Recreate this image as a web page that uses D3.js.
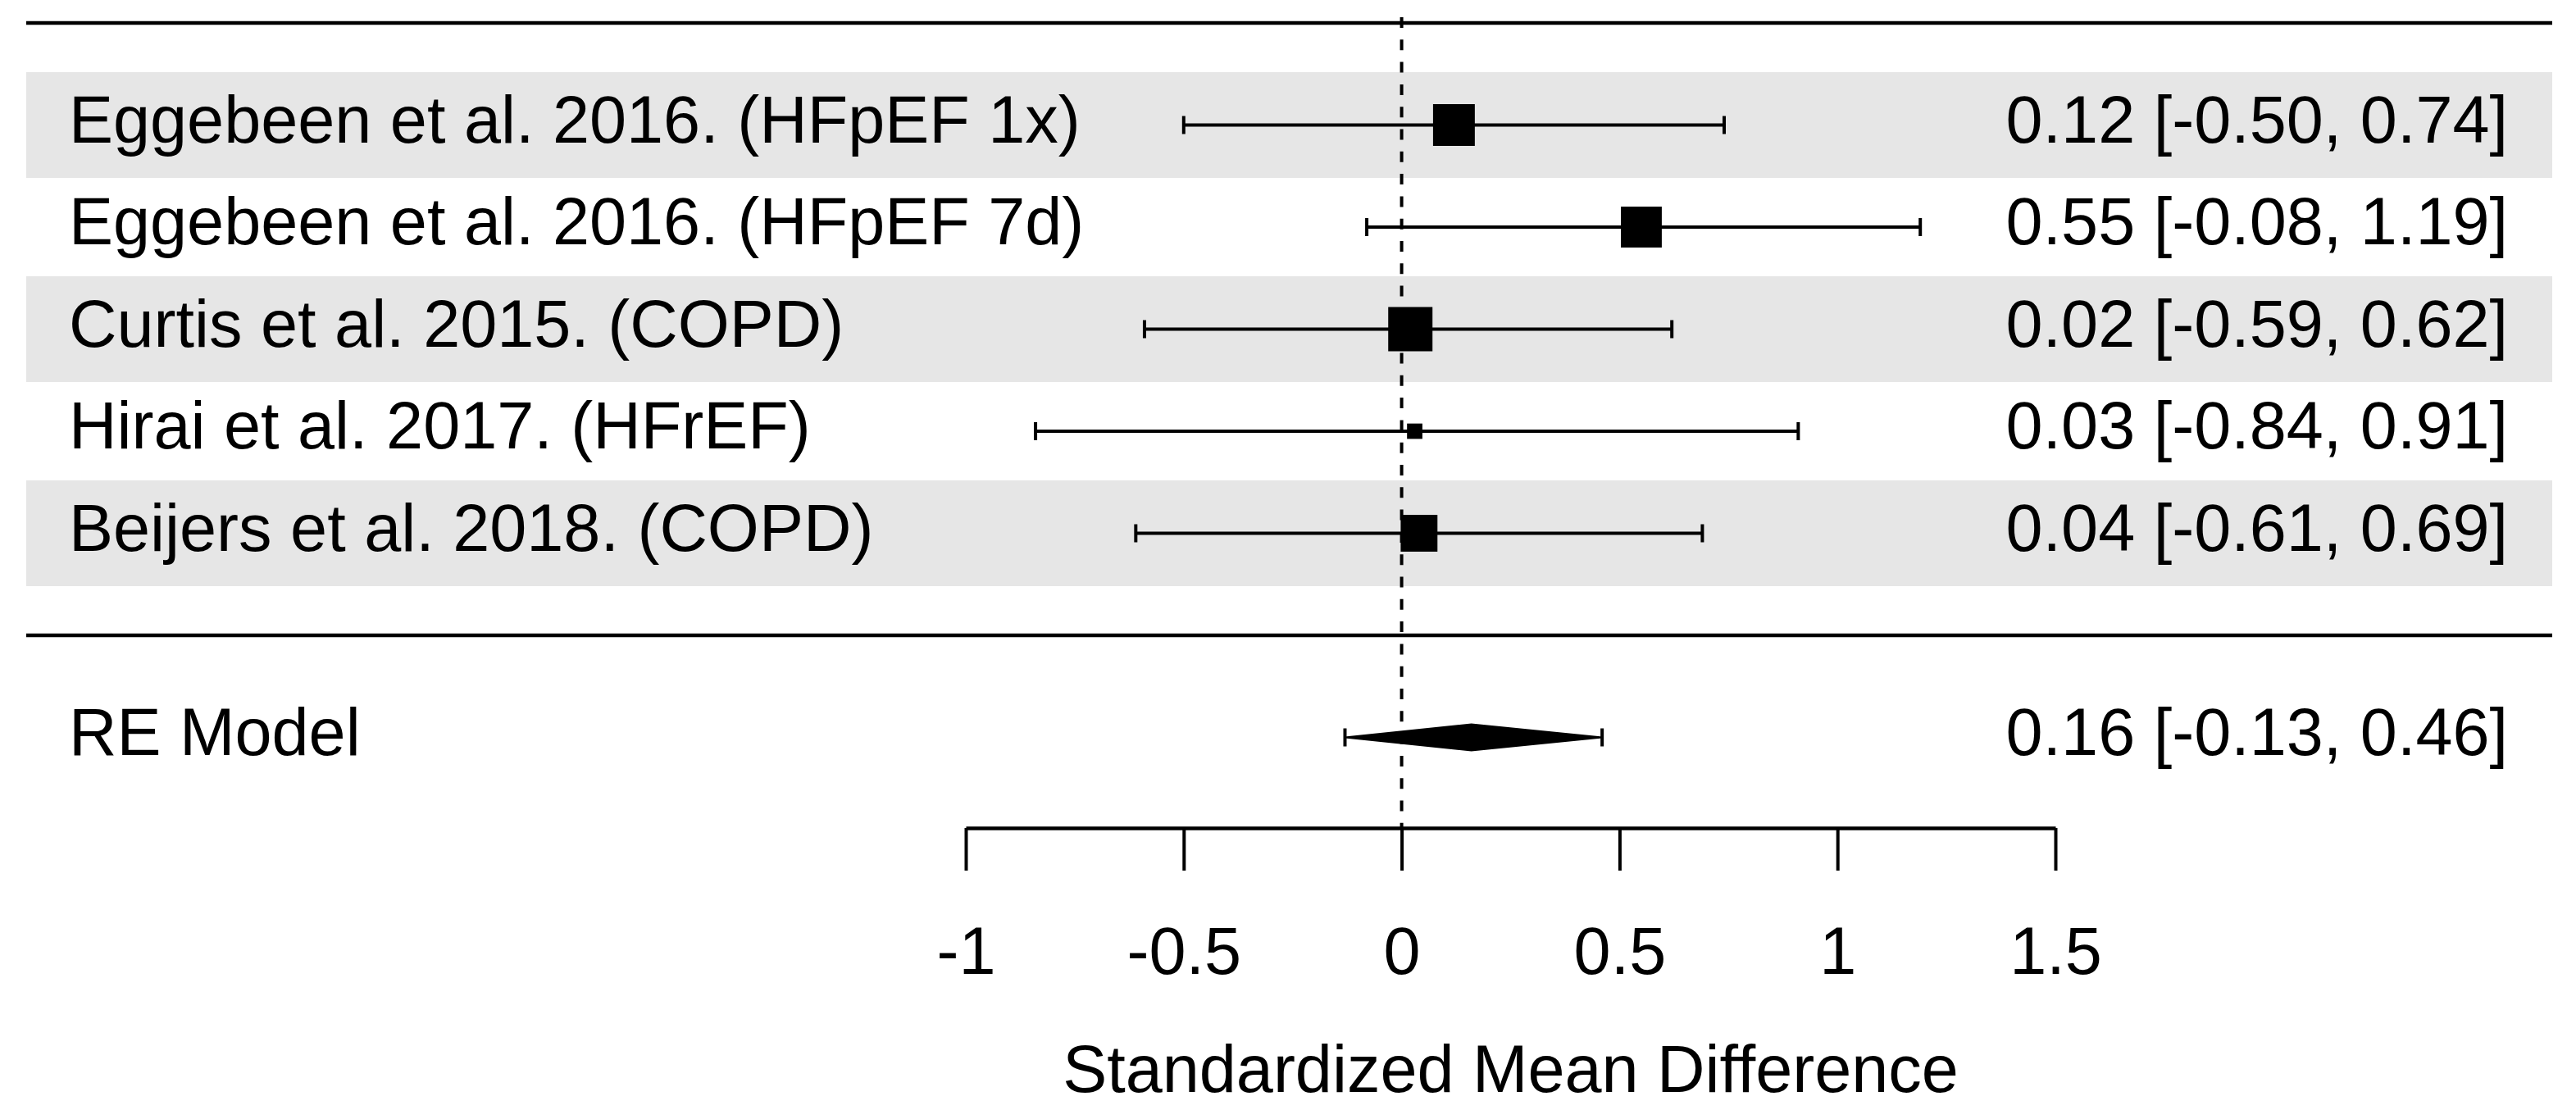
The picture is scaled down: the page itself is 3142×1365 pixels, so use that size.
<!DOCTYPE html>
<html>
<head>
<meta charset="utf-8">
<script src="https://cdn.jsdelivr.net/npm/d3@7"></script>
<style>
body { margin: 0; background: #ffffff; }
text { font-family: "Liberation Sans", Arial, sans-serif; font-size: 81px; fill: #000; }
</style>
</head>
<body>
<div id="chart"></div>
<script>
var studies = ["Eggebeen et al. 2016. (HFpEF 1x)", "Eggebeen et al. 2016. (HFpEF 7d)",
	"Curtis et al. 2015. (COPD)", "Hirai et al. 2017. (HFrEF)", "Beijers et al. 2018. (COPD)"];
var estimates = [0.12, 0.55, 0.02, 0.03, 0.04];
var ciLower = [-0.50, -0.08, -0.59, -0.84, -0.61];
var ciUpper = [0.74, 1.19, 0.62, 0.91, 0.69];
var weights = [23.4, 22.9, 24.8, 8.6, 20.6];

var summaryLabel = "RE Model";
var summaryEst = 0.16;
var summaryLower = -0.13;
var summaryUpper = 0.46;

var xTicks = [-1, -0.5, 0, 0.5, 1, 1.5];
var xTitle = "Standardized Mean Difference";

var width = 3142, height = 1365;
var k = studies.length;

var svg = d3.select("#chart").append("svg")
	.attr("width", width)
	.attr("height", height);

var x = d3.scaleLinear().domain([-1, 1.5]).range([1178, 2507]);
// rows k..1 for studies, -1 for the summary, like metafor
var y = d3.scaleLinear().domain([k + 1, 0]).range([28, 775]);
var size = d3.scaleLinear().domain([0, d3.max(weights)]).range([0, 54]);

var fmt = function (v) { return v.toFixed(2); };
var rows = studies.map(function (s, i) {
	return { label: s, est: estimates[i], lb: ciLower[i], ub: ciUpper[i], w: weights[i], row: k - i };
});

// shaded bands on every other row
svg.selectAll("rect.band")
	.data(rows.filter(function (d, i) { return i % 2 == 0; }))
	.enter()
	.append("rect")
	.attr("class", "band")
	.attr("x", 32)
	.attr("width", 3113 - 32)
	.attr("y", function (d) { return y(d.row) - 64.5; })
	.attr("height", 129)
	.style("fill", "#e6e6e6");

// top line and separator
svg.selectAll("line.hline")
	.data([k + 1, 0])
	.enter()
	.append("line")
	.attr("x1", 32)
	.attr("x2", 3113)
	.attr("y1", function (d) { return y(d); })
	.attr("y2", function (d) { return y(d); })
	.style("stroke", "#000")
	.style("stroke-width", 4.5);

// axis
var axis = d3.axisBottom(x)
	.tickValues(xTicks)
	.tickSize(52)
	.tickSizeOuter(0)
	.tickPadding(68)
	.tickFormat(function (d) { return String(d); });

var gAxis = svg.append("g")
	.attr("transform", "translate(0,1010)")
	.call(axis);
gAxis.select(".domain").style("stroke", "#000").style("stroke-width", 4.5);
gAxis.selectAll(".tick line").style("stroke", "#000").style("stroke-width", 4);
gAxis.selectAll(".tick text")
	.style("font-family", "'Liberation Sans', Arial, sans-serif")
	.style("font-size", "81px")
	.style("fill", "#000");

svg.append("text")
	.attr("x", (x.range()[0] + x.range()[1]) / 2)
	.attr("y", 1332)
	.attr("text-anchor", "middle")
	.text(xTitle);

// reference line at 0
svg.append("line")
	.attr("x1", x(0))
	.attr("x2", x(0))
	.attr("y1", 21)
	.attr("y2", 1010)
	.style("stroke", "#000")
	.style("stroke-width", 4)
	.style("stroke-dasharray", "13,14.3");

// confidence intervals
var ci = svg.selectAll("g.ci")
	.data(rows)
	.enter()
	.append("g")
	.attr("class", "ci");

ci.append("line")
	.attr("x1", function (d) { return x(d.lb); })
	.attr("x2", function (d) { return x(d.ub); })
	.attr("y1", function (d) { return y(d.row); })
	.attr("y2", function (d) { return y(d.row); })
	.style("stroke", "#000")
	.style("stroke-width", 4);

ci.selectAll("line.cap")
	.data(function (d) { return [{ v: d.lb, row: d.row }, { v: d.ub, row: d.row }]; })
	.enter()
	.append("line")
	.attr("class", "cap")
	.attr("x1", function (d) { return x(d.v); })
	.attr("x2", function (d) { return x(d.v); })
	.attr("y1", function (d) { return y(d.row) - 11; })
	.attr("y2", function (d) { return y(d.row) + 11; })
	.style("stroke", "#000")
	.style("stroke-width", 4);

ci.append("rect")
	.attr("x", function (d) { return x(d.est) - size(d.w) / 2; })
	.attr("y", function (d) { return y(d.row) - size(d.w) / 2; })
	.attr("width", function (d) { return size(d.w); })
	.attr("height", function (d) { return size(d.w); })
	.style("fill", "#000");

// labels
svg.selectAll("text.study")
	.data(rows)
	.enter()
	.append("text")
	.attr("class", "study")
	.attr("x", 84)
	.attr("y", function (d) { return y(d.row) + 21; })
	.text(function (d) { return d.label; });

svg.selectAll("text.est")
	.data(rows)
	.enter()
	.append("text")
	.attr("class", "est")
	.attr("x", 3059)
	.attr("y", function (d) { return y(d.row) + 21; })
	.attr("text-anchor", "end")
	.text(function (d) { return fmt(d.est) + " [" + fmt(d.lb) + ", " + fmt(d.ub) + "]"; });

// summary diamond
var sy = y(-1);
svg.append("polygon")
	.attr("points", [
		[x(summaryLower), sy], [x(summaryEst), sy - 16],
		[x(summaryUpper), sy], [x(summaryEst), sy + 16]
	].map(function (p) { return p.join(","); }).join(" "))
	.style("fill", "#000")
	.style("stroke", "#000")
	.style("stroke-width", 2);

svg.selectAll("line.scap")
	.data([summaryLower, summaryUpper])
	.enter()
	.append("line")
	.attr("x1", function (d) { return x(d); })
	.attr("x2", function (d) { return x(d); })
	.attr("y1", sy - 11)
	.attr("y2", sy + 11)
	.style("stroke", "#000")
	.style("stroke-width", 4);

svg.append("text")
	.attr("x", 84)
	.attr("y", sy + 21)
	.text(summaryLabel);

svg.append("text")
	.attr("x", 3059)
	.attr("y", sy + 21)
	.attr("text-anchor", "end")
	.text(fmt(summaryEst) + " [" + fmt(summaryLower) + ", " + fmt(summaryUpper) + "]");
</script>
</body>
</html>
